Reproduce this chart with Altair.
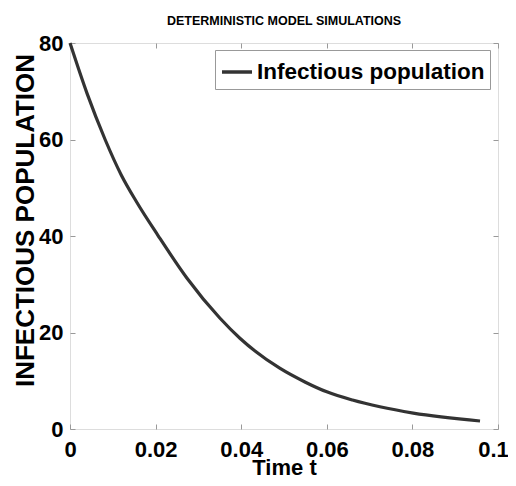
import altair as alt
import pandas as pd

# values
time_t = [0.0, 0.004, 0.0082, 0.012, 0.0156, 0.0205, 0.0273, 0.035, 0.0397,
          0.049, 0.055, 0.060, 0.066, 0.0724, 0.0802, 0.0958]
infectious = [80.0, 69.5, 60.0, 52.6, 47.0, 40.2, 31.3, 23.0, 18.8,
              12.6, 9.7, 7.7, 6.0, 4.6, 3.3, 1.66]
series_name = "Infectious population"
x_ticks = [0, 0.02, 0.04, 0.06, 0.08, 0.1]
y_ticks = [0, 20, 40, 60, 80]

df = pd.DataFrame({"t": time_t, "I": infectious, "series": series_name})

FONT = "Liberation Sans, Arial, sans-serif"
W, H = 428, 386
TK = 5

xscale = alt.Scale(domain=[0, 0.1], nice=False, zero=False)
yscale = alt.Scale(domain=[0, 80], nice=False)

x_bottom = alt.Axis(
    orient="bottom", values=x_ticks, format="~g", offset=-TK, tickSize=TK,
    domain=False, grid=False, tickColor="#999", labelPadding=10,
    labelFont=FONT, labelFontSize=22, labelFontWeight="bold", labelColor="black",
    labelFlush=False,
    labelOffset=alt.ConditionalAxisNumber(
        condition={"test": "datum.value >= 0.099", "value": -5}, value=0
    ),
    title="Time t", titleFont=FONT, titleFontSize=22,
    titleFontWeight="bold", titleColor="black", titleX=W / 2, titleY=50,
    titleBaseline="alphabetic", titleAlign="center",
)
y_left = alt.Axis(
    orient="left", values=y_ticks, offset=-TK, tickSize=TK, domain=False,
    grid=False, tickColor="#999", labelPadding=7,
    labelFont=FONT, labelFontSize=22, labelFontWeight="bold", labelColor="black",
    title="INFECTIOUS POPULATION", titleFont=FONT, titleFontSize=26,
    titleFontWeight="bold", titleColor="black", titleAngle=-90,
    titleX=-42, titleY=177, titleAlign="center", titleBaseline="alphabetic",
)
x_top = alt.Axis(
    orient="top", values=x_ticks, offset=-TK, tickSize=TK, domain=False,
    grid=False, labels=False, tickColor="#999", title=None,
)
y_right = alt.Axis(
    orient="right", values=y_ticks, offset=-TK, tickSize=TK, domain=False,
    grid=False, labels=False, tickColor="#999", title=None,
)

line = alt.Chart(df).mark_line(strokeWidth=3.2, interpolate="monotone").encode(
    x=alt.X("t:Q", scale=xscale, axis=x_bottom),
    y=alt.Y("I:Q", scale=yscale, axis=y_left),
    color=alt.Color(
        "series:N",
        scale=alt.Scale(domain=[series_name], range=["#333333"]),
        legend=alt.Legend(
            title=None, orient="none", legendX=145, legendY=7,
            symbolType="stroke", symbolSize=900, symbolStrokeWidth=3.5,
            labelFont=FONT, labelFontSize=22.5, labelFontWeight="bold",
            labelColor="black", labelLimit=400, labelOffset=3,
            fillColor="white", strokeColor="#999", padding=5,
            rowPadding=0,
        ),
    ),
)

ticks_layer = alt.Chart(df).mark_line(opacity=0).encode(
    x=alt.X("t:Q", scale=xscale, axis=x_top),
    y=alt.Y("I:Q", scale=yscale, axis=y_right),
)

chart = alt.layer(line, ticks_layer).properties(
    width=W, height=H,
    autosize=alt.AutoSizeParams(type="none"),
    padding={"left": 62, "top": 35, "right": 10, "bottom": 49},
    title=alt.TitleParams(
        "DETERMINISTIC MODEL SIMULATIONS", font=FONT, fontSize=12.5,
        fontWeight="bold", color="black", anchor="middle", offset=5,
    ),
).configure_view(stroke="#b5b5b5", strokeWidth=1).configure(background="white")

chart.save("out.html", embed_options={"renderer": "svg", "actions": False})
